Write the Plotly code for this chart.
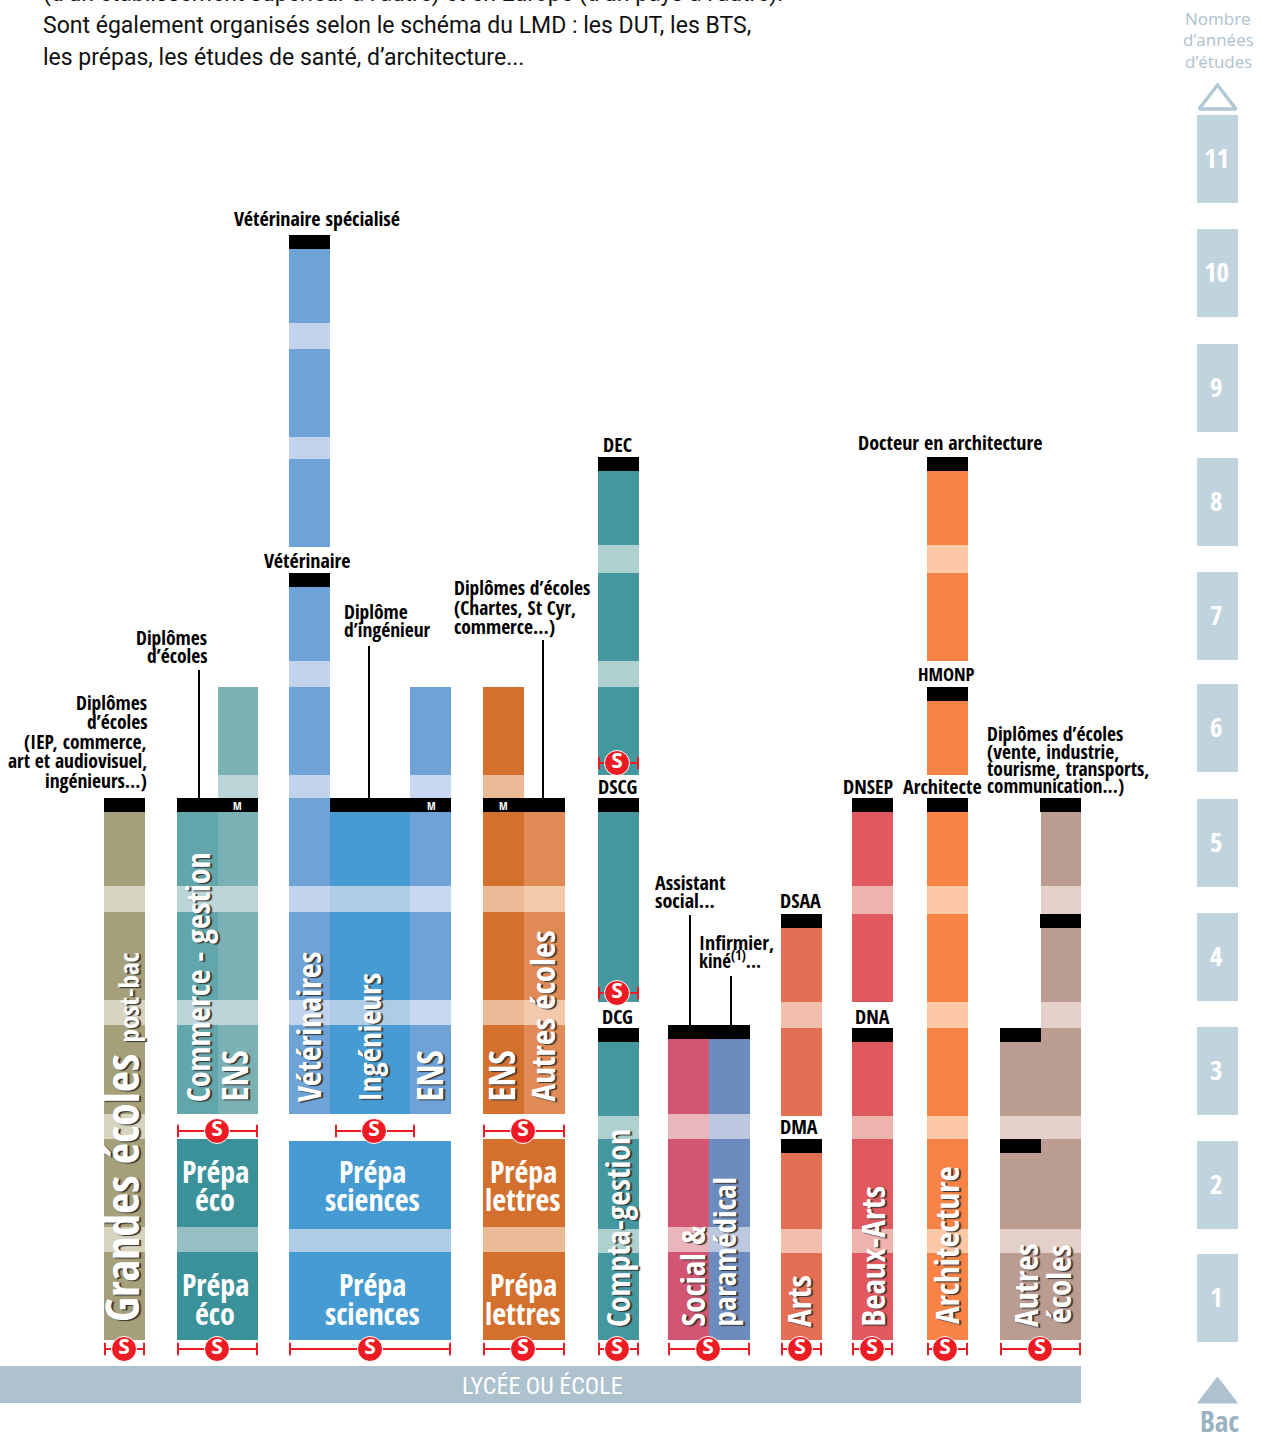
import plotly.graph_objects as go

# ---- Data: years of study after the bac ----
# which years each stream runs through (solid block), and after which years a pale band follows
SOLID_YEARS = {
    "Grandes écoles": [1, 2, 3, 4, 5],
    "Commerce - gestion": [3, 4, 5],
    "ENS éco": [3, 4, 5, 6],
    "Prépa éco": [1, 2],
    "Vétérinaires": [3, 4, 5, 6, 7, 8, 9, 10],
    "Ingénieurs": [3, 4, 5],
    "ENS sciences": [3, 4, 5, 6],
    "Prépa sciences": [1, 2],
    "ENS lettres": [3, 4, 5, 6],
    "Autres écoles": [3, 4, 5],
    "Prépa lettres": [1, 2],
    "Compta-gestion": [1, 2, 3, 4, 5, 6, 7, 8],
    "Social": [1, 2, 3],
    "Paramédical": [1, 2, 3],
    "Arts": [1, 2, 3, 4],
    "Beaux-Arts": [1, 2, 3, 4, 5],
    "Architecture": [1, 2, 3, 4, 5, 6, 7, 8],
    "Autres A": [1, 2, 3],
    "Autres B": [1, 2, 3, 4, 5],
}
PALE_AFTER = {
    "Grandes écoles": [1, 2, 3, 4],
    "Commerce - gestion": [3, 4],
    "ENS éco": [3, 4, 5],
    "Prépa éco": [1],
    "Vétérinaires": [3, 4, 5, 6, 8, 9],
    "Ingénieurs": [3, 4],
    "ENS sciences": [3, 4, 5],
    "Prépa sciences": [1],
    "ENS lettres": [3, 4, 5],
    "Autres écoles": [3, 4],
    "Prépa lettres": [1],
    "Compta-gestion": [1, 2, 6, 7],
    "Social": [1, 2],
    "Paramédical": [1, 2],
    "Arts": [1, 3],
    "Beaux-Arts": [1, 2, 4],
    "Architecture": [1, 2, 3, 4, 7],
    "Autres A": [1, 2],
    "Autres B": [1, 2, 3, 4],
}
# years whose pale band is drawn in the solid colour
MERGED_AFTER = {"Compta-gestion": [4]}
# year in which a diploma is awarded
DIPLOMA_YEARS = {
    "GE": [5], "Com": [5], "Ing": [5], "Vet": [7, 10], "Let": [5],
    "Compta": [3, 5, 8], "Soc": [3], "Arts": [2, 4],
    "Beaux": [3, 5], "Archi": [5, 6, 8], "AutA": [2, 3], "AutB": [4, 5],
}
# start / end of the solid block of year 1, 2, ... as read on the picture
START_A = [0, 1, 2, 3.009, 4.018, 5, 6.009, 7.018, 7.99, 9.0]
END_A = [.779, 1.779, 2.788, 3.788, 4.796, 5.779, 6.788, 7.796, 8.77, 9.78]
START_B = [0, .982, 1.982, 2.99, 4.018, 5, 6.009, 7.035]
END_B = [.77, 1.779, 2.76, 3.77, 4.796, 5.779, 6.788, 7.815]
START_C = [0, .982]
END_C = [.779, 1.761]
YEAR_LABELS = ["1", "2", "3", "4", "5", "6", "7", "8", "9", "10", "11"]
YEAR_BASES = [-.018, .982, 1.991, 3.0, 4.009, 5.027, 6.018, 7.027, 8.035, 9.053, 10.062]

# ---- Geometry and styles ----
COL = {
    "Grandes écoles": (104, 145, "#A5A07A", "#D6D3BF", "A"),
    "Commerce - gestion": (177, 218, "#62A5AA", "#BBD5D8", "A"),
    "ENS éco": (218, 258, "#7BB0B5", "#BBD5D8", "A"),
    "Prépa éco": (177, 258, "#3A9199", "#96BFC4", "A"),
    "Vétérinaires": (289, 330, "#6FA3D7", "#C1D3ED", "A"),
    "Ingénieurs": (330, 410, "#469CD2", "#AFCCE6", "A"),
    "ENS sciences": (410, 451, "#6FA3D7", "#C7D8F0", "A"),
    "Prépa sciences": (289, 451, "#469CD2", "#AFCCE6", "C"),
    "ENS lettres": (483, 524, "#D3702D", "#ECBA96", "A"),
    "Autres écoles": (524, 565, "#E08A55", "#F3C9AC", "A"),
    "Prépa lettres": (483, 565, "#D3702D", "#EBBA96", "A"),
    "Compta-gestion": (598, 639, "#45979F", "#AED0D0", "B"),
    "Social": (668, 709, "#D25672", "#EBB5BC", "A"),
    "Paramédical": (709, 750, "#6E8BBE", "#BCC7E0", "A"),
    "Arts": (781, 822, "#E37054", "#F2BFAC", "B"),
    "Beaux-Arts": (852, 893, "#DF595E", "#EEB3AD", "B"),
    "Architecture": (927, 968, "#F78347", "#FCC8A6", "B"),
    "Autres A": (1000, 1040.5, "#BA9C90", "#E2D0C9", "B"),
    "Autres B": (1040.5, 1081, "#BA9C90", "#E2D0C9", "B"),
}
TABLES = {"A": (START_A, END_A), "B": (START_B, END_B), "C": (START_C, END_C)}
SPAN = {
    "GE": (104, 145, "A"), "Com": (177, 258, "A"), "Ing": (330, 451, "A"), "Vet": (289, 330, "A"),
    "Let": (483, 565, "A"), "Compta": (598, 639, "B"), "Soc": (668, 750, "A"), "Arts": (781, 822, "B"),
    "Beaux": (852, 893, "B"), "Archi": (927, 968, "B"), "AutA": (1000, 1041, "B"), "AutB": (1040, 1081, "B"),
}
CAP_H = .124
COND = "Open Sans Condensed"
BOXC = "#C1D4DE"
BAND = "#ADC1CF"
RED = "#ED1C24"
W, H = 1266, 1433
PX_PER_YEAR = 113.0
Y0_PX = 1340.0


def py(p):
    """page pixel row -> axis value (labels and decorations only)"""
    return (Y0_PX - p) / PX_PER_YEAR


fig = go.Figure()


def add_spans(name, left, right, spans, color):
    if not spans:
        return
    fig.add_trace(go.Bar(
        x=[(left + right) / 2] * len(spans), y=[b - a for a, b in spans], base=[a for a, b in spans],
        width=[right - left] * len(spans), marker=dict(color=color, line=dict(width=0)),
        name=name, hoverinfo="name", showlegend=False))


for name, (l, r, solid, pale, tab) in COL.items():
    st, en = TABLES[tab]
    spans = [(st[y - 1], en[y - 1]) for y in SOLID_YEARS[name]]
    spans += [(en[y - 1] - .005, st[y] + .005) for y in MERGED_AFTER.get(name, [])]
    add_spans(name, l, r, spans, solid)
    add_spans(name + " (pale)", l, r, [(en[y - 1], st[y]) for y in PALE_AFTER[name]], pale)

for key, years in DIPLOMA_YEARS.items():
    l, r, tab = SPAN[key]
    en = TABLES[tab][1]
    add_spans("Diplôme " + key, l, r, [(en[y - 1] - CAP_H, en[y - 1]) for y in years], "#000000")

# year scale on the right
fig.add_trace(go.Bar(x=[1217.5] * 11, y=[.779] * 11, base=YEAR_BASES, width=[41] * 11,
                     marker=dict(color=BOXC, line=dict(width=0)), showlegend=False, hoverinfo="skip"))
# lycée band
fig.add_trace(go.Bar(x=[540.5], y=[py(1366) - py(1403)], base=[py(1403)], width=[1081],
                     marker=dict(color=BAND, line=dict(width=0)), showlegend=False, hoverinfo="skip"))

# leader lines
for x, p0, p1 in [(199, 670, 798), (369, 646, 798), (543, 640, 798), (690, 915, 1025), (731, 976, 1025)]:
    fig.add_trace(go.Scatter(x=[x, x], y=[py(p0), py(p1)], mode="lines", line=dict(color="#000", width=2),
                             showlegend=False, hoverinfo="skip"))

# S markers (bridges between cycles)
S_MARKS = [
    (104, 145, 124, 1349), (177, 258, 217, 1349), (289, 451, 370, 1349), (483, 565, 523, 1349),
    (598, 639, 617, 1349), (668, 750, 708, 1349), (781, 822, 800, 1349), (852, 893, 872, 1349),
    (927, 968, 945, 1349), (1000, 1081, 1040, 1349),
    (177, 258, 217, 1131), (335, 415, 374, 1131), (483, 565, 523, 1131),
    (598, 639, 617, 993), (598, 639, 617, 763),
]
for l, r, c, p in S_MARKS:
    fig.add_trace(go.Scatter(x=[l + 1, r - 1], y=[py(p), py(p)], mode="lines+markers",
                             line=dict(color=RED, width=2),
                             marker=dict(symbol="line-ns", size=9, line=dict(color=RED, width=2)),
                             showlegend=False, hoverinfo="skip"))
    fig.add_trace(go.Scatter(x=[c], y=[py(p)], mode="markers+text", text=["<b>S</b>"], textposition="middle center",
                             textfont=dict(family="Open Sans", size=21, color="#fff"),
                             marker=dict(size=25, color=RED, line=dict(color="#fff", width=1)),
                             showlegend=False, hoverinfo="skip"))

# triangles
fig.add_trace(go.Scatter(x=[1217.5], y=[py(101)], mode="markers",
                         marker=dict(symbol="triangle-up", size=32, color="#fff", line=dict(color="#B2C8D5", width=3.5)),
                         showlegend=False, hoverinfo="skip"))
fig.add_trace(go.Scatter(x=[1217.5], y=[py(1394.5)], mode="markers",
                         marker=dict(symbol="triangle-up", size=36, color=BAND, line=dict(width=0)),
                         showlegend=False, hoverinfo="skip"))

ann = []


def label(text, x, p, size=20, color="#000", bold=True, anchor="center", family=COND, angle=0, yanchor="middle", shadow=None):
    font = dict(family=family, size=size, color=color)
    if shadow:
        font["shadow"] = shadow
    ann.append(dict(text=f"<b>{text}</b>" if bold else text, x=x, y=py(p), xref="x", yref="y", showarrow=False,
                    xanchor=anchor, yanchor=yanchor, textangle=angle, font=font, borderpad=0, borderwidth=0))


# black labels
BLACK = [
    ("Vétérinaire spécialisé", 317, 218, "center", 20), ("Vétérinaire", 307, 560, "center", 20),
    ("Diplôme", 344, 611, "left", 19.5), ("d’ingénieur", 344, 629, "left", 19.5),
    ("Diplômes", 207, 637, "right", 19.5), ("d’écoles", 207, 655, "right", 19.5),
    ("Diplômes", 147, 702, "right", 19.5), ("d’écoles", 147, 721, "right", 19.5), ("(IEP, commerce,", 147, 741, "right", 19.5),
    ("art et audiovisuel,", 147, 760, "right", 19.5), ("ingénieurs...)", 147, 780, "right", 19.5),
    ("Diplômes d’écoles", 454, 587, "left", 19.5), ("(Chartes, St Cyr,", 454, 607, "left", 19.5), ("commerce...)", 454, 626, "left", 19.5),
    ("DEC", 617, 444, "center", 20), ("DSCG", 617, 786, "center", 20), ("DCG", 617, 1016, "center", 20),
    ("Docteur en architecture", 950, 442, "center", 20), ("HMONP", 946, 673, "center", 18.5),
    ("Architecte", 942, 786, "center", 20), ("DNSEP", 868, 786, "center", 20), ("DNA", 872, 1016, "center", 20),
    ("DSAA", 800, 900, "center", 20), ("DMA", 799, 1126, "center", 20),
    ("Assistant", 655, 882, "left", 20), ("social...", 655, 900, "left", 20),
    ("Infirmier,", 699, 942, "left", 20), ("kiné<sup>(1)</sup>...", 699, 960, "left", 19),
    ("Diplômes d’écoles", 987, 733, "left", 19.5), ("(vente, industrie,", 987, 751, "left", 19.5),
    ("tourisme, transports,", 987, 768, "left", 19.5), ("communication...)", 987, 786, "left", 19),
]
for t, x, p, a, s in BLACK:
    label(t, x, p, size=s, anchor=a)
for x in (237, 431, 503):
    label("M", x, 805.5, size=11, color="#fff")

# prépa labels
for p1, p2 in ((1171, 1199), (1284, 1313)):
    for x, a, b in ((215, "Prépa", "éco"), (372, "Prépa", "sciences"), (523, "Prépa", "lettres")):
        label(a, x, p1, size=30, color="#fff")
        label(b, x, p2, size=30, color="#fff")

# vertical labels
SH = "-1px 2px 1px #333"
VERT = [
    ("Grandes écoles <span style='font-size:27px'>post-bac</span>", 121, 1322, 46),
    ("Commerce - gestion", 197, 1102, 32), ("ENS", 234, 1102, 35),
    ("Vétérinaires", 308, 1102, 32), ("Ingénieurs", 368, 1102, 31), ("ENS", 429, 1102, 35),
    ("ENS", 501, 1102, 35), ("Autres écoles", 542, 1102, 33),
    ("Compta-gestion", 617, 1327, 32), ("Social &", 692, 1327, 33), ("paramédical", 723, 1327, 31),
    ("Arts", 798, 1327, 33), ("Beaux-Arts", 872, 1327, 33), ("Architecture", 946, 1324, 33),
    ("Autres", 1025, 1327, 33), ("écoles", 1058, 1324, 33),
]
for t, x, p, s in VERT:
    label(t, x, p, size=s, color="#fff", angle=-90, yanchor="bottom", shadow=SH)

# year numbers
for i, t in enumerate(YEAR_LABELS):
    label(t, 1216, Y0_PX - PX_PER_YEAR * (YEAR_BASES[i] + .39) - 1, size=27, color="#fff")

label("LYCÉE OU ÉCOLE", 542, 1386, size=24, color="#fff", bold=False, family="Roboto Condensed")
for t, p in (("Nombre", 18), ("d’années", 39), ("d’études", 61)):
    label(t, 1218, p, size=17, color="#AEC2D0", bold=False, family="Open Sans")
label("Bac", 1219, 1420, size=29, color="#9AB1C0")

# intro text (first line is cut by the page edge)
for t, p in (("(d’un établissement supérieur à l’autre) et en Europe (d’un pays à l’autre).", -7),
             ("Sont également organisés selon le schéma du LMD : les DUT, les BTS,", 25),
             ("les prépas, les études de santé, d’architecture...", 57)):
    ann.append(dict(text=t, x=41, y=1 - p / H, xref="x", yref="paper", showarrow=False, xanchor="left", yanchor="middle",
                    font=dict(family="Roboto", size=23, color="#111")))

fig.update_layout(
    width=W, height=H, margin=dict(l=0, r=0, t=0, b=0), barmode="overlay", bargap=0,
    paper_bgcolor="#fff", plot_bgcolor="#fff", showlegend=False, annotations=ann,
    xaxis=dict(range=[0, W], visible=False, fixedrange=True),
    yaxis=dict(range=[py(H), py(0)], visible=False, fixedrange=True),
)
fig.write_html("out.html", config={"displayModeBar": False}, post_script="document.body.style.margin='0';")
